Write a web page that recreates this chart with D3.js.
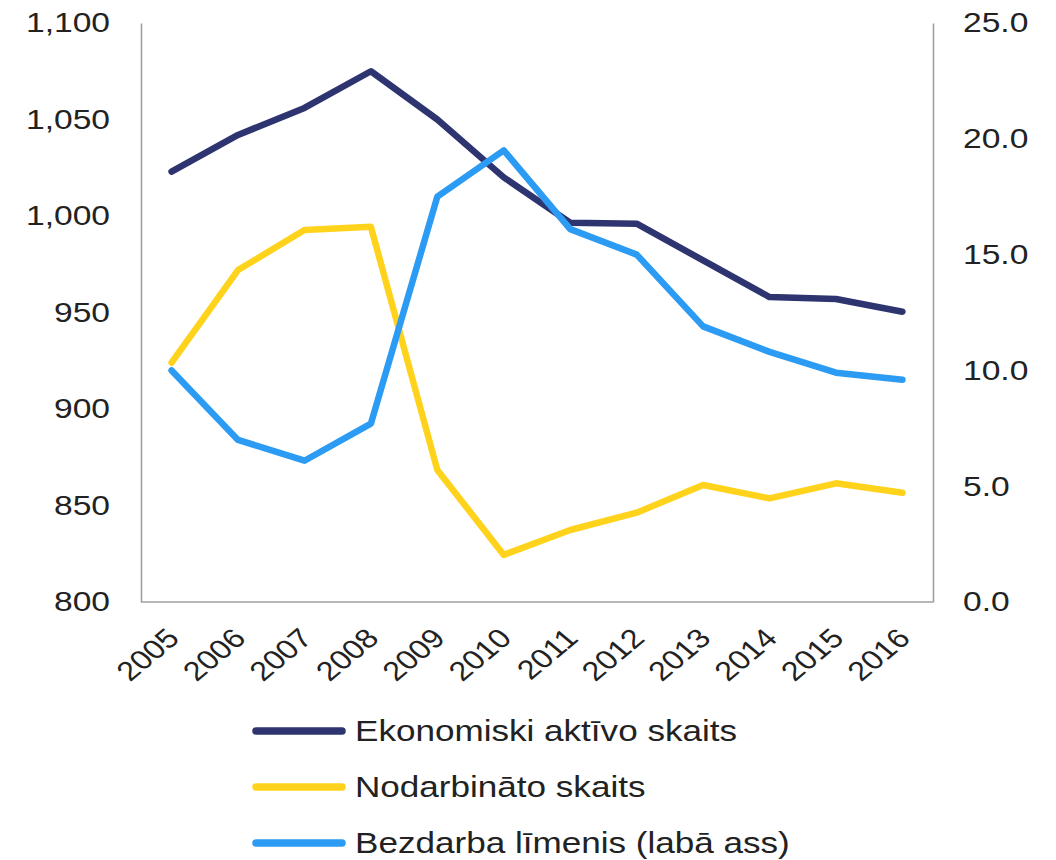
<!DOCTYPE html>
<html>
<head>
  <meta charset="utf-8">
  <script src="https://d3js.org/d3.v7.min.js"></script>
  <style>
    html, body { margin: 0; padding: 0; background: #fff; }
    svg { display: block; }
    text { font-family: "Liberation Sans", Arial, sans-serif; fill: #222; }
  </style>
</head>
<body>
<div id="chart"></div>
<script>
"use strict";

// Data
const YEARS = ["2005", "2006", "2007", "2008", "2009", "2010", "2011", "2012", "2013", "2014", "2015", "2016"];
const AKTIVIE = [1023, 1042, 1056, 1075, 1050, 1020, 996.5, 996, 977, 958, 957, 950.4]; // left axis
const NODARBINATIE = [924, 972, 992.7, 994.4, 868.4, 824.4, 837.3, 846.3, 860.6, 853.7, 861.5, 856.6]; // left axis
const BEZDARBS = [10.0, 7.0, 6.1, 7.7, 17.5, 19.5, 16.1, 15.0, 11.9, 10.8, 9.9, 9.6]; // right axis
const LEFT_TICKS = [800, 850, 900, 950, 1000, 1050, 1100];
const RIGHT_TICKS = [0, 5, 10, 15, 20, 25];
const SERIES_NAMES = ["Ekonomiski aktīvo skaits", "Nodarbināto skaits", "Bezdarba līmenis (labā ass)"];
const SERIES_COLORS = ["#2d3470", "#ffd31c", "#2c9bf4"];

// Dimensions
const WIDTH = 1056;
const HEIGHT = 860;
const margin = { top: 23, right: 123, bottom: 258, left: 141 };
const STRETCH = "scale(1.2,1)"; // the source image text is a bit wide

const svg = d3.select("#chart").append("svg")
  .attr("width", WIDTH)
  .attr("height", HEIGHT);

const x = d3.scalePoint()
  .domain(YEARS)
  .range([margin.left, WIDTH - margin.right])
  .padding(0.46);

const yLeft = d3.scaleLinear()
  .domain([800, 1100])
  .range([HEIGHT - margin.bottom, margin.top]);

const yRight = d3.scaleLinear()
  .domain([0, 25])
  .range([HEIGHT - margin.bottom, margin.top]);

// Axes
const gLeft = svg.append("g")
  .attr("transform", `translate(${margin.left},0)`)
  .call(d3.axisLeft(yLeft).tickValues(LEFT_TICKS).tickSize(0).tickSizeOuter(0).tickFormat(d3.format(",")));
gLeft.selectAll("text")
  .attr("x", 0)
  .attr("transform", "translate(-31,0) " + STRETCH)
  .style("font-size", "28px");

const gRight = svg.append("g")
  .attr("transform", `translate(${WIDTH - margin.right},0)`)
  .call(d3.axisRight(yRight).tickValues(RIGHT_TICKS).tickSize(0).tickSizeOuter(0).tickFormat(d3.format(".1f")));
gRight.selectAll("text")
  .attr("x", 0)
  .attr("transform", "translate(30,0) " + STRETCH)
  .style("font-size", "28px");

const gBottom = svg.append("g")
  .attr("transform", `translate(0,${HEIGHT - margin.bottom})`)
  .call(d3.axisBottom(x).tickSize(0).tickSizeOuter(0));
// make bottom domain span the whole plot
gBottom.select(".domain").attr("d", `M${margin.left},0H${WIDTH - margin.right}`);
gBottom.selectAll("text")
  .attr("x", 0)
  .attr("y", 0)
  .attr("dy", 0)
  .attr("text-anchor", "end")
  .attr("transform", "translate(9,38) " + STRETCH + " rotate(-45)")
  .style("font-size", "27px");

svg.selectAll(".domain")
  .attr("stroke", "#a0a0a0")
  .attr("stroke-width", 1.6);
svg.selectAll(".tick text").attr("fill", "#222");

// Lines
const lineLeft = d3.line()
  .x((d, i) => x(YEARS[i]))
  .y(d => yLeft(d));
const lineRight = d3.line()
  .x((d, i) => x(YEARS[i]))
  .y(d => yRight(d));

const paths = [
  { d: lineLeft(AKTIVIE), c: SERIES_COLORS[0] },
  { d: lineLeft(NODARBINATIE), c: SERIES_COLORS[1] },
  { d: lineRight(BEZDARBS), c: SERIES_COLORS[2] }
];

svg.append("g")
  .selectAll("path")
  .data(paths)
  .join("path")
  .attr("d", p => p.d)
  .attr("fill", "none")
  .attr("stroke", p => p.c)
  .attr("stroke-width", 6.5)
  .attr("stroke-linecap", "round")
  .attr("stroke-linejoin", "round");

// Legend
const legend = svg.append("g")
  .selectAll("g")
  .data(SERIES_NAMES)
  .join("g")
  .attr("transform", (d, i) => `translate(256,${731 + i * 56})`);

legend.append("line")
  .attr("x1", 0)
  .attr("x2", 86)
  .attr("stroke", (d, i) => SERIES_COLORS[i])
  .attr("stroke-width", 7.5)
  .attr("stroke-linecap", "round");

legend.append("text")
  .attr("transform", "translate(99,0) scale(1.17,1)")
  .attr("dy", "0.32em")
  .style("font-size", "30px")
  .text(d => d);
</script>
</body>
</html>
